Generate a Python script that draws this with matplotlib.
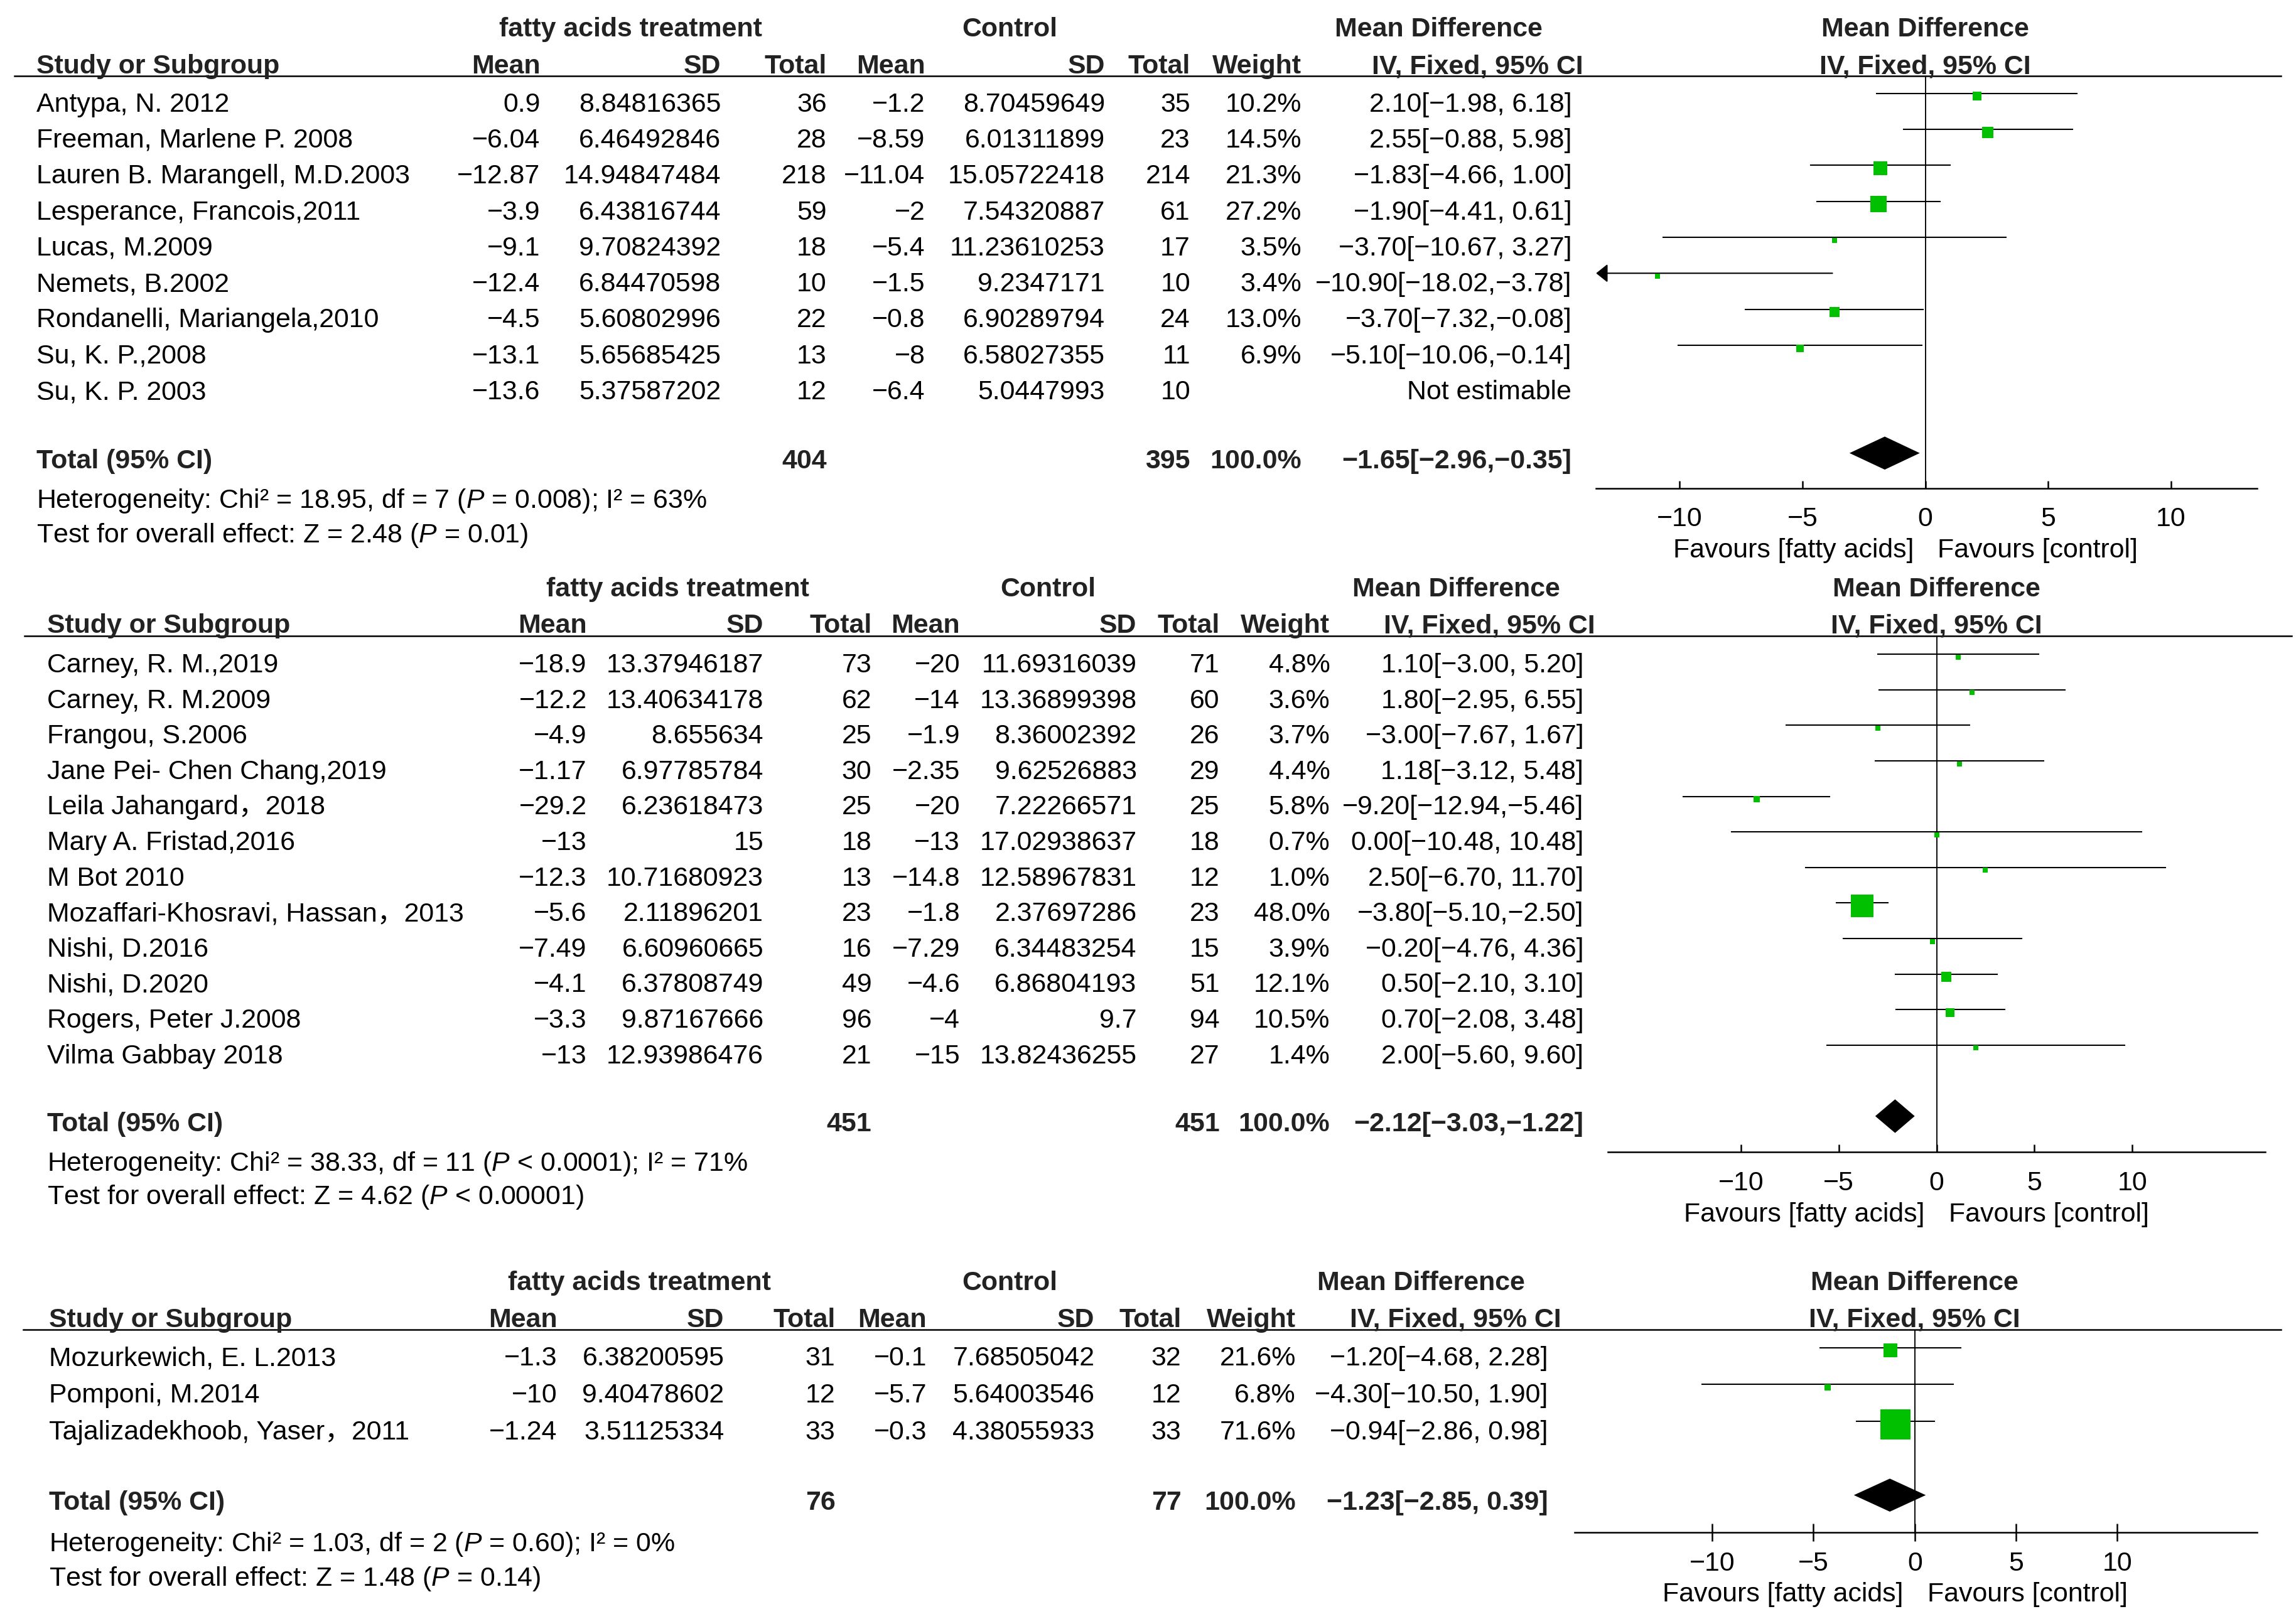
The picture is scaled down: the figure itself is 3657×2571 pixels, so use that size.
import matplotlib
matplotlib.use('Agg')
import matplotlib.pyplot as plt
from matplotlib.patches import Polygon

plt.rcParams['font.family'] = ['Liberation Sans', 'Noto Sans CJK SC']
plt.rcParams['mathtext.fontset'] = 'custom'
plt.rcParams['mathtext.it'] = 'Liberation Sans:italic'
plt.rcParams['mathtext.rm'] = 'Liberation Sans'

# ---------------- panel 1 ----------------
p1_study = ['Antypa, N. 2012', 'Freeman, Marlene P. 2008', 'Lauren B. Marangell, M.D.2003',
            'Lesperance, Francois,2011', 'Lucas, M.2009', 'Nemets, B.2002',
            'Rondanelli, Mariangela,2010', 'Su, K. P.,2008', 'Su, K. P. 2003']
p1_trt_mean = [0.9, -6.04, -12.87, -3.9, -9.1, -12.4, -4.5, -13.1, -13.6]
p1_trt_sd = [8.84816365, 6.46492846, 14.94847484, 6.43816744, 9.70824392, 6.84470598,
             5.60802996, 5.65685425, 5.37587202]
p1_trt_n = [36, 28, 218, 59, 18, 10, 22, 13, 12]
p1_ctl_mean = [-1.2, -8.59, -11.04, -2, -5.4, -1.5, -0.8, -8, -6.4]
p1_ctl_sd = [8.70459649, 6.01311899, 15.05722418, 7.54320887, 11.23610253, 9.2347171,
             6.90289794, 6.58027355, 5.0447993]
p1_ctl_n = [35, 23, 214, 61, 17, 10, 24, 11, 10]
p1_weight = [10.2, 14.5, 21.3, 27.2, 3.5, 3.4, 13.0, 6.9, None]
p1_md = [2.10, 2.55, -1.83, -1.90, -3.70, -10.90, -3.70, -5.10, None]
p1_lo = [-1.98, -0.88, -4.66, -4.41, -10.67, -18.02, -7.32, -10.06, None]
p1_hi = [6.18, 5.98, 1.00, 0.61, 3.27, -3.78, -0.08, -0.14, None]
p1_total = dict(trt_n=404, ctl_n=395, md=-1.65, lo=-2.96, hi=-0.35)
p1_stats = ['Heterogeneity: Chi\u00b2 = 18.95, df = 7 ($P$ = 0.008); I\u00b2 = 63%',
            'Test for overall effect: Z = 2.48 ($P$ = 0.01)']

# ---------------- panel 2 ----------------
p2_study = ['Carney, R. M.,2019', 'Carney, R. M.2009', 'Frangou, S.2006',
            'Jane Pei- Chen Chang,2019', 'Leila Jahangard\uff0c2018', 'Mary A. Fristad,2016',
            'M Bot 2010', 'Mozaffari-Khosravi, Hassan\uff0c2013', 'Nishi, D.2016',
            'Nishi, D.2020', 'Rogers, Peter J.2008', 'Vilma Gabbay 2018']
p2_trt_mean = [-18.9, -12.2, -4.9, -1.17, -29.2, -13, -12.3, -5.6, -7.49, -4.1, -3.3, -13]
p2_trt_sd = [13.37946187, 13.40634178, 8.655634, 6.97785784, 6.23618473, 15, 10.71680923,
             2.11896201, 6.60960665, 6.37808749, 9.87167666, 12.93986476]
p2_trt_n = [73, 62, 25, 30, 25, 18, 13, 23, 16, 49, 96, 21]
p2_ctl_mean = [-20, -14, -1.9, -2.35, -20, -13, -14.8, -1.8, -7.29, -4.6, -4, -15]
p2_ctl_sd = [11.69316039, 13.36899398, 8.36002392, 9.62526883, 7.22266571, 17.02938637,
             12.58967831, 2.37697286, 6.34483254, 6.86804193, 9.7, 13.82436255]
p2_ctl_n = [71, 60, 26, 29, 25, 18, 12, 23, 15, 51, 94, 27]
p2_weight = [4.8, 3.6, 3.7, 4.4, 5.8, 0.7, 1.0, 48.0, 3.9, 12.1, 10.5, 1.4]
p2_md = [1.10, 1.80, -3.00, 1.18, -9.20, 0.00, 2.50, -3.80, -0.20, 0.50, 0.70, 2.00]
p2_lo = [-3.00, -2.95, -7.67, -3.12, -12.94, -10.48, -6.70, -5.10, -4.76, -2.10, -2.08, -5.60]
p2_hi = [5.20, 6.55, 1.67, 5.48, -5.46, 10.48, 11.70, -2.50, 4.36, 3.10, 3.48, 9.60]
p2_total = dict(trt_n=451, ctl_n=451, md=-2.12, lo=-3.03, hi=-1.22)
p2_stats = ['Heterogeneity: Chi\u00b2 = 38.33, df = 11 ($P$ < 0.0001); I\u00b2 = 71%',
            'Test for overall effect: Z = 4.62 ($P$ < 0.00001)']

# ---------------- panel 3 ----------------
p3_study = ['Mozurkewich, E. L.2013', 'Pomponi, M.2014', 'Tajalizadekhoob, Yaser\uff0c2011']
p3_trt_mean = [-1.3, -10, -1.24]
p3_trt_sd = [6.38200595, 9.40478602, 3.51125334]
p3_trt_n = [31, 12, 33]
p3_ctl_mean = [-0.1, -5.7, -0.3]
p3_ctl_sd = [7.68505042, 5.64003546, 4.38055933]
p3_ctl_n = [32, 12, 33]
p3_weight = [21.6, 6.8, 71.6]
p3_md = [-1.20, -4.30, -0.94]
p3_lo = [-4.68, -10.50, -2.86]
p3_hi = [2.28, 1.90, 0.98]
p3_total = dict(trt_n=76, ctl_n=77, md=-1.23, lo=-2.85, hi=0.39)
p3_stats = ['Heterogeneity: Chi\u00b2 = 1.03, df = 2 ($P$ = 0.60); I\u00b2 = 0%',
            'Test for overall effect: Z = 1.48 ($P$ = 0.14)']

xticks = [-10, -5, 0, 5, 10]

# layout, in units of the reference shown at ~43 %
W, H = 1568.2, 1102.5
FS = 10.3
GREEN = '#00c000'
HEAD = '#222222'

lay1 = dict(study_x=25, cols=[369, 492.4, 564.6, 631.8, 754.7, 813, 889, 1073.5],
            ci_head=1081.4, trt_head=430.6, ctl_head=689.7, md_head=982.7, line=(10, 1558),
            y_h=52, y_r0=63.8, sp=24.57, y_a=333.5, x0=1315, ppu=16.78, xlim=(-13.4, 13.5),
            tickdir='in')
lay2 = dict(study_x=32.2, cols=[400.8, 521.5, 595.4, 655.7, 776.4, 833.1, 908.4, 1081.6],
            ci_head=1089.6, trt_head=462.7, ctl_head=716, md_head=994.7, line=(16.8, 1565),
            y_h=434.2, y_r0=446.9, sp=24.27, y_a=787.1, x0=1322.7, ppu=13.37, xlim=(-16.8, 16.8),
            tickdir='in')
lay3 = dict(study_x=33.3, cols=[380.5, 494.6, 570.6, 633, 747.7, 806.8, 885, 1057.2],
            ci_head=1066.3, trt_head=436.7, ctl_head=689.6, md_head=970.7, line=(16, 1558),
            y_h=908.3, y_r0=920.5, sp=25.2, y_a=1046.9, x0=1307.8, ppu=13.84, xlim=(-16.8, 16.9),
            tickdir='inout')


def fmt(v):
    return str(v).replace('-', '\u2212')


def ci_text(est, lo, hi):
    sep = ' ' if hi >= 0 else ''
    return fmt(f'{est:.2f}[{lo:.2f},{sep}{hi:.2f}]')


fig = plt.figure(figsize=(3657 / 300, 2571 / 300), dpi=300)
bg = fig.add_axes([0, 0, 1, 1])
bg.set_xlim(0, W)
bg.set_ylim(H, 0)
bg.axis('off')


def txt(x, y, s, ha='right', bold=False, **kw):
    bg.text(x, y, s, ha=ha, va='baseline', fontsize=FS,
            fontweight='bold' if bold else 'normal',
            color=HEAD if bold else 'black', **kw)


def draw_panel(study, tm, tsd, tn, cm, csd, cn, weight, md, lo, hi, total, stats, lay):
    c = lay['cols']
    y_h, y_r0, sp, y_a = lay['y_h'], lay['y_r0'], lay['sp'], lay['y_a']
    x0, ppu = lay['x0'], lay['ppu']
    xmin, xmax = lay['xlim']

    # headers
    h1, h2 = y_h - 27, y_h - 1.8
    txt(lay['trt_head'], h1, 'fatty acids treatment', ha='center', bold=True)
    txt(lay['ctl_head'], h1, 'Control', ha='center', bold=True)
    txt(lay['md_head'], h1, 'Mean Difference', ha='center', bold=True)
    txt(x0, h1, 'Mean Difference', ha='center', bold=True)
    txt(lay['study_x'], h2, 'Study or Subgroup', ha='left', bold=True)
    for x, s in zip(c[:7], ['Mean', 'SD', 'Total', 'Mean', 'SD', 'Total', 'Weight']):
        txt(x, h2, s, bold=True)
    txt(lay['ci_head'], h2, 'IV, Fixed, 95% CI', bold=True)
    txt(x0, h2, 'IV, Fixed, 95% CI', ha='center', bold=True)
    bg.plot(lay['line'], [y_h, y_h], color='black', lw=0.6)

    # study rows
    for i in range(len(study)):
        yb = y_r0 + sp * i + 12.4
        txt(lay['study_x'], yb, study[i], ha='left')
        vals = [tm[i], tsd[i], tn[i], cm[i], csd[i], cn[i]]
        for x, v in zip(c[:6], vals):
            txt(x, yb, fmt(v))
        if weight[i] is None:
            txt(c[7], yb, 'Not estimable')
        else:
            txt(c[6], yb, f'{weight[i]:.1f}%')
            txt(c[7], yb, ci_text(md[i], lo[i], hi[i]))

    # total rows
    ti = len(study) + 1
    yt = y_r0 + sp * ti + 10.2
    txt(lay['study_x'], yt, 'Total (95% CI)', ha='left', bold=True)
    txt(c[2], yt, str(total['trt_n']), bold=True)
    txt(c[5], yt, str(total['ctl_n']), bold=True)
    txt(c[6], yt, '100.0%', bold=True)
    txt(c[7], yt, ci_text(total['md'], total['lo'], total['hi']), bold=True)
    txt(lay['study_x'], yt + 1.11 * sp, stats[0], ha='left')
    txt(lay['study_x'], yt + 2.06 * sp, stats[1], ha='left')

    # forest plot
    left = x0 + xmin * ppu
    fax = fig.add_axes([left / W, 1 - y_a / H, (xmax - xmin) * ppu / W, (y_a - y_h) / H])
    fax.set_xlim(xmin, xmax)
    fax.set_ylim((y_a - y_r0) / sp, (y_h - y_r0) / sp)
    fax.patch.set_visible(False)
    for s in ['left', 'right', 'top']:
        fax.spines[s].set_visible(False)
    fax.spines['bottom'].set_linewidth(0.6)
    fax.set_yticks([])
    fax.set_xticks(xticks)
    if lay['tickdir'] == 'in':
        fax.tick_params(axis='x', direction='in', length=2.8, width=0.6, pad=7.0, labelsize=FS)
    else:
        fax.tick_params(axis='x', direction='inout', length=6.8, width=0.6, pad=3.6, labelsize=FS)
    fax.axvline(0, color='black', lw=0.45)

    off = 2.0 / sp
    for i in range(len(study)):
        if md[i] is None:
            continue
        a, b = max(lo[i], xmin), min(hi[i], xmax)
        if lo[i] < xmin:
            fax.annotate('', xy=(xmin, i), xytext=(b, i),
                         arrowprops=dict(arrowstyle='-|>,head_length=0.25,head_width=0.2',
                                         color='black', lw=0.5, mutation_scale=15,
                                         shrinkA=0, shrinkB=0))
        else:
            fax.plot([a, b], [i, i], color='black', lw=0.5)
        ms = max(1.9, 0.8 * weight[i] ** 0.62)
        fax.plot(md[i], i + off, marker='s', ms=ms, color=GREEN, mec='none', ls='none', zorder=3)

    hh = 10.3 / sp
    fax.add_patch(Polygon([(total['lo'], ti), (total['md'], ti - hh), (total['hi'], ti),
                           (total['md'], ti + hh)], closed=True, color='black', zorder=3))

    txt(x0 - 8, y_a + 47.2, 'Favours [fatty acids]')
    txt(x0 + 8.5, y_a + 47.2, 'Favours [control]', ha='left')


draw_panel(p1_study, p1_trt_mean, p1_trt_sd, p1_trt_n, p1_ctl_mean, p1_ctl_sd, p1_ctl_n,
           p1_weight, p1_md, p1_lo, p1_hi, p1_total, p1_stats, lay1)
draw_panel(p2_study, p2_trt_mean, p2_trt_sd, p2_trt_n, p2_ctl_mean, p2_ctl_sd, p2_ctl_n,
           p2_weight, p2_md, p2_lo, p2_hi, p2_total, p2_stats, lay2)
draw_panel(p3_study, p3_trt_mean, p3_trt_sd, p3_trt_n, p3_ctl_mean, p3_ctl_sd, p3_ctl_n,
           p3_weight, p3_md, p3_lo, p3_hi, p3_total, p3_stats, lay3)

fig.savefig('out.png', dpi=300)
